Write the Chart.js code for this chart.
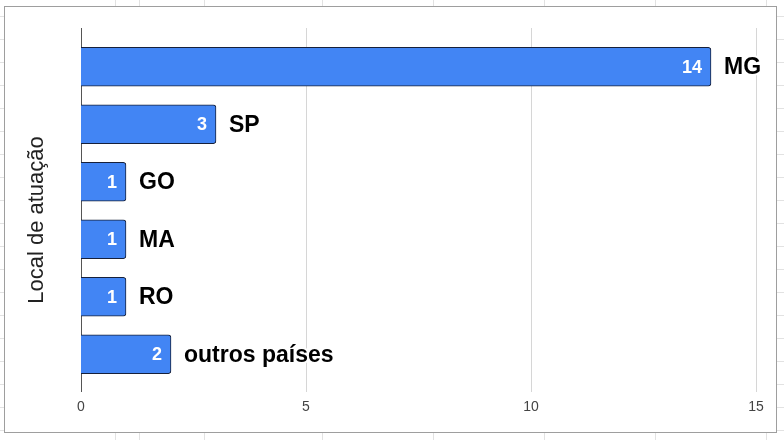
<!DOCTYPE html>
<html>
<head>
<meta charset="utf-8">
<script src="https://cdn.jsdelivr.net/npm/chart.js@4"></script>
<style>
  html, body { margin: 0; padding: 0; }
  body {
    width: 784px; height: 440px; position: relative; overflow: hidden;
    background-color: #fff;
    background-image: repeating-linear-gradient(to bottom, transparent 0 16px, #e2e2e2 16px 17px, transparent 17px 23px);
    background-position: 0 0;
  }
  .col { position: absolute; top: 0; width: 1px; height: 440px; background: #e2e2e2; }
  #box {
    position: absolute; left: 4px; top: 6px; width: 771px; height: 425px;
    border: 1px solid #9e9e9e; background: #fff;
  }
  #grafico { position: absolute; left: 0; top: 0; }
</style>
</head>
<body>
<div class="col" style="left:115px"></div>
<div class="col" style="left:139px"></div>
<div class="col" style="left:204px"></div>
<div class="col" style="left:322px"></div>
<div class="col" style="left:433px"></div>
<div class="col" style="left:544px"></div>
<div class="col" style="left:655px"></div>
<div class="col" style="left:766px"></div>
<div id="box"><canvas id="grafico" width="771" height="425"></canvas></div>
<script>
const categorias = ["MG", "SP", "GO", "MA", "RO", "outros países"];
const quantidades = [14, 3, 1, 1, 1, 2];
const ticksX = [0, 5, 10, 15];
const tituloEixo = "Local de atuação";

const fonte = '"Liberation Sans", Arial, sans-serif';

// linhas de grade verticais, passam um pouco acima e abaixo da área
const gradePlugin = {
  id: "grade",
  beforeDatasetsDraw(chart) {
    const ctx = chart.ctx;
    const area = chart.chartArea;
    const x = chart.scales.x;
    ctx.save();
    ticksX.forEach((v) => {
      const px = Math.round(x.getPixelForValue(v)) + 0.5;
      ctx.strokeStyle = v === 0 ? "#555" : "#d6d6d6";
      ctx.lineWidth = 1;
      ctx.beginPath();
      ctx.moveTo(px, area.top - 10);
      ctx.lineTo(px, area.bottom + 9);
      ctx.stroke();
    });
    // titulo do eixo
    ctx.translate(32, 213);
    ctx.rotate(-Math.PI / 2);
    ctx.fillStyle = "#222";
    ctx.font = "22px " + fonte;
    ctx.textAlign = "center";
    ctx.textBaseline = "middle";
    ctx.fillText(tituloEixo, 0, 0);
    ctx.restore();
  },
};

const rotulosPlugin = {
  id: "rotulos",
  afterDatasetsDraw(chart) {
    const ctx = chart.ctx;
    const meta = chart.getDatasetMeta(0);
    ctx.save();
    ctx.textBaseline = "middle";
    meta.data.forEach((bar, i) => {
      ctx.font = "bold 18px " + fonte;
      ctx.fillStyle = "#fff";
      ctx.textAlign = "right";
      ctx.fillText(String(quantidades[i]), bar.x - 9, bar.y + 1);

      ctx.font = "bold 23px " + fonte;
      ctx.textAlign = "left";
      ctx.strokeStyle = "#fff";
      ctx.lineWidth = 4;
      ctx.lineJoin = "round";
      ctx.strokeText(categorias[i], bar.x + 13, bar.y + 1);
      ctx.fillStyle = "#000";
      ctx.fillText(categorias[i], bar.x + 13, bar.y + 1);
    });
    ctx.restore();
  },
};

new Chart(document.getElementById("grafico"), {
  type: "bar",
  data: {
    labels: categorias,
    datasets: [
      {
        label: tituloEixo,
        data: quantidades,
        backgroundColor: "#4285f4",
        borderColor: "#16203a",
        borderWidth: 1,
        borderRadius: 3,
        barThickness: 39,
      },
    ],
  },
  options: {
    indexAxis: "y",
    responsive: false,
    animation: false,
    layout: { padding: { top: 31, right: 20, left: 0, bottom: 0 } },
    plugins: {
      legend: { display: false },
      tooltip: { enabled: false },
    },
    scales: {
      x: {
        min: 0,
        max: 15,
        afterBuildTicks: (s) => { s.ticks = ticksX.map((v) => ({ value: v })); },
        afterFit: (s) => { s.height = 49; },
        grid: { display: false },
        border: { display: false },
        ticks: {
          color: "#444",
          padding: 8,
          font: { family: fonte, size: 14 },
        },
      },
      y: {
        afterFit: (s) => { s.width = 76; },
        grid: { display: false },
        border: { display: false },
        ticks: { display: false },
      },
    },
  },
  plugins: [gradePlugin, rotulosPlugin],
});
</script>
</body>
</html>
